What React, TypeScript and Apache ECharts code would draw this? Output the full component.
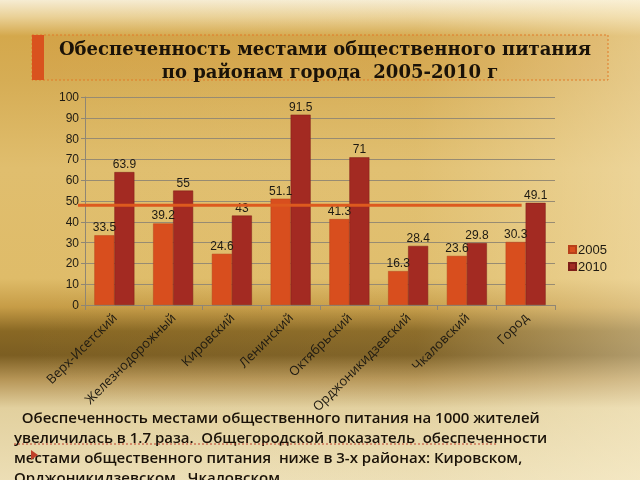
import React, { useEffect, useRef } from "react";
import * as echarts from "echarts";

const categories = [
  "Верх-Исетский",
  "Железнодорожный",
  "Кировский",
  "Ленинский",
  "Октябрьский",
  "Орджоникидзевский",
  "Чкаловский",
  "Город",
];
const values2005 = [33.5, 39.2, 24.6, 51.1, 41.3, 16.3, 23.6, 30.3];
const values2010 = [63.9, 55, 43, 91.5, 71, 28.4, 29.8, 49.1];
const seriesNames = ["2005", "2010"];
const referenceLevel = 48;
const titleLines = [
  "Обеспеченность местами общественного питания",
  "по районам города  2005-2010 г",
];
const noteLines = [
  "  Обеспеченность местами общественного питания на 1000 жителей",
  "увеличилась в 1.7 раза.  Общегородской показатель  обеспеченности",
  "местами общественного питания  ниже в 3-х районах: Кировском,",
  "Орджоникидзевском , Чкаловском.",
];

const W = 640;
const H = 480;
const GRID = { left: 85, right: 85, top: 97, bottom: 175 };

export default function App() {
  const ref = useRef<HTMLDivElement>(null);
  useEffect(() => {
    if (!ref.current) return;
    const chart = echarts.init(ref.current, null, { renderer: "svg", width: W, height: H });
    const labelStyle = {
      show: true,
      position: "top" as const,
      distance: 2,
      fontFamily: "Liberation Sans",
      fontSize: 12,
      color: "#1e1a12",
    };
    chart.setOption({
      animation: false,
      graphic: [
        {
          type: "rect",
          z: -10,
          silent: true,
          shape: { x: 0, y: 0, width: W, height: H },
          style: {
            fill: new echarts.graphic.LinearGradient(0, 0, 0, 1, [
              { offset: 0, color: "#F6ECD2" },
              { offset: 0.035, color: "#EAD197" },
              { offset: 0.075, color: "#D4A84C" },
              { offset: 0.17, color: "#D6AD55" },
              { offset: 0.35, color: "#E0BE6E" },
              { offset: 0.58, color: "#DFBC69" },
              { offset: 0.64, color: "#C69C46" },
              { offset: 0.69, color: "#896824" },
              { offset: 0.74, color: "#7C5E22" },
              { offset: 0.79, color: "#B69556" },
              { offset: 0.85, color: "#E2D09E" },
              { offset: 1, color: "#ECDEB5" },
            ]),
          },
        },
        {
          type: "rect",
          z: -9,
          silent: true,
          shape: { x: 0, y: 0, width: W, height: H },
          style: {
            fill: new echarts.graphic.LinearGradient(0, 0, 1, 0, [
              { offset: 0, color: "rgba(255,245,215,0)" },
              { offset: 0.65, color: "rgba(255,245,215,0.04)" },
              { offset: 1, color: "rgba(255,245,215,0.4)" },
            ]),
          },
        },
        {
          type: "rect",
          z: -8,
          silent: true,
          shape: { x: 32, y: 35, width: 576, height: 45 },
          style: {
            fill: "rgba(205,120,30,0.08)",
            stroke: "#E07A28",
            lineWidth: 1,
            lineDash: [2, 2],
          },
        },
        {
          type: "rect",
          z: -7,
          silent: true,
          shape: { x: 32, y: 35, width: 12, height: 45 },
          style: { fill: "#D9521E" },
        },
        {
          type: "text",
          x: 325,
          y: 48,
          style: {
            text: titleLines[0],
            fontFamily: "DejaVu Serif",
            fontWeight: "bold",
            fontSize: 18,
            fill: "#1a1208",
            align: "center",
            verticalAlign: "middle",
          },
        },
        {
          type: "text",
          x: 330,
          y: 71,
          style: {
            text: titleLines[1],
            fontFamily: "DejaVu Serif",
            fontWeight: "bold",
            fontSize: 18,
            fill: "#1a1208",
            align: "center",
            verticalAlign: "middle",
          },
        },
        {
          type: "text",
          x: 14,
          y: 407,
          style: {
            text: noteLines.join("\n"),
            fontFamily: "Open Sans",
            fontWeight: 600,
            fontSize: 15,
            lineHeight: 20,
            fill: "#1a1208",
            align: "left",
            verticalAlign: "top",
          },
        },
        {
          type: "line",
          silent: true,
          shape: { x1: 14, y1: 444, x2: 497, y2: 444 },
          style: { stroke: "#C0402A", lineWidth: 1, lineDash: [2, 2] },
        },
        {
          type: "polygon",
          silent: true,
          shape: { points: [[31, 450], [38, 455], [31, 460]] },
          style: { fill: "#C0402A" },
        },
      ],
      legend: {
        orient: "vertical",
        left: 563,
        top: 238,
        itemWidth: 7,
        itemHeight: 7,
        itemGap: 4,
        icon: "rect",
        data: seriesNames,
        textStyle: { fontFamily: "Liberation Sans", fontSize: 13, color: "#1e1a12", padding: [0, 0, 0, -3] },
      },
      grid: { ...GRID },
      xAxis: {
        type: "category",
        data: categories,
        axisLine: { show: true, lineStyle: { color: "#8f8674", width: 1 } },
        axisTick: { show: true, length: 5, lineStyle: { color: "#8f8674" } },
        axisLabel: {
          rotate: 45,
          margin: 10,
          fontFamily: "Open Sans",
          fontSize: 13,
          color: "#1e1a12",
          interval: 0,
        },
      },
      yAxis: {
        type: "value",
        min: 0,
        max: 100,
        interval: 10,
        axisLine: { show: true, lineStyle: { color: "#8f8674", width: 1 } },
        axisTick: { show: true, length: 4, lineStyle: { color: "#8f8674" } },
        axisLabel: { fontFamily: "Liberation Sans", fontSize: 12, color: "#1e1a12", margin: 6 },
        splitLine: { show: true, lineStyle: { color: "#978b72", width: 1 } },
      },
      series: [
        {
          name: seriesNames[0],
          type: "bar",
          data: values2005,
          barWidth: 20,
          barGap: "0%",
          itemStyle: { color: "#D84E1E", borderColor: "#B8401A", borderWidth: 0.5 },
          label: labelStyle,
        },
        {
          name: seriesNames[1],
          type: "bar",
          data: values2010,
          barWidth: 20,
          barGap: "0%",
          itemStyle: { color: "#A32A22", borderColor: "#7e1e18", borderWidth: 0.5 },
          label: labelStyle,
        },
      ],
    });

    const y = chart.convertToPixel({ yAxisIndex: 0 }, referenceLevel) as number;
    const xEnd = chart.convertToPixel({ xAxisIndex: 0 }, categories.length - 1) as number;
    chart.setOption({
      graphic: [
        {
          id: "refline",
          type: "line",
          silent: true,
          z: 10,
          shape: { x1: GRID.left - 7, y1: y, x2: xEnd - 4, y2: y },
          style: { stroke: "#DD5A1E", lineWidth: 3 },
        },
      ],
    });

    return () => chart.dispose();
  }, []);
  return (
    <div
      ref={ref}
      style={{ position: "fixed", left: 0, top: 0, width: W, height: H }}
    />
  );
}
